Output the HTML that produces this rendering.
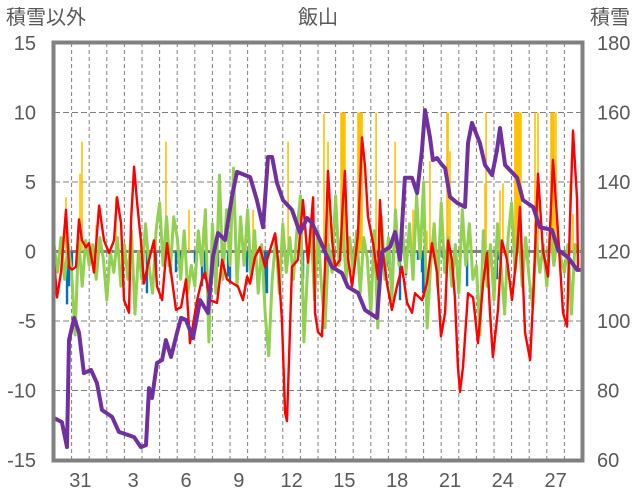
<!DOCTYPE html>
<html><head><meta charset="utf-8">
<style>
html,body{margin:0;padding:0;background:#fff;}
svg{display:block;}
text{font-family:"Liberation Sans","Noto Sans CJK JP",sans-serif;fill:#595959;}
</style></head>
<body>
<svg id="chart" width="636" height="501" viewBox="0 0 636 501" xmlns="http://www.w3.org/2000/svg">
<text x="46" y="24" font-size="20" text-anchor="middle">積雪以外</text>
<text x="318" y="24" font-size="20" text-anchor="middle">飯山</text>
<text x="610" y="24" font-size="20" text-anchor="middle">積雪</text>
<g id="grid"></g>
<g id="bars"></g>
<g id="lines"></g>
<g id="axes"></g>
</svg>
<script>
const leftTicks=[15,10,5,0,-5,-10,-15];
const rightTicks=[180,160,140,120,100,80,60];
const xTickLabels=["31","3","6","9","12","15","18","21","24","27"];
const xTickDays=[1,4,7,10,13,16,19,22,25,28];
// snow depth (right axis)
const snowT=[0,0.45,0.74,0.85,1.14,1.42,1.7,2.1,2.44,2.73,3.3,3.69,4.55,4.94,5.23,5.4,5.57,5.85,6.14,6.36,6.65,6.99,7.22,7.5,7.9,8.3,8.75,9.03,9.32,9.72,10.11,10.4,11.14,11.53,11.88,12.16,12.39,12.67,13.01,13.52,13.98,14.38,14.66,15.11,15.4,15.8,16.36,16.7,17.27,17.67,18.35,18.64,19.09,19.38,19.66,19.94,20.34,20.63,20.91,21.08,21.36,21.53,21.76,22.05,22.22,22.5,22.9,23.35,23.52,23.75,24.2,24.49,24.89,25.17,25.34,25.63,26.31,26.65,27.22,27.61,28.3,28.64,29.2,29.72,29.89];
const snowV=[72.1,70.9,63.7,94.5,100.9,96.6,85,85.9,82.2,74.4,72.4,68.1,66.6,63.7,64.3,80.7,77.8,87.9,88.8,94.5,89.6,96.6,100.9,100.3,95.1,106,102.3,118.4,125.3,123.3,135.7,142.9,141.4,134.8,127,147.2,147.2,139.7,134.8,132,125.3,129.6,128.2,123.3,119.9,115.5,113.8,109.8,108.1,103.2,100.9,119.9,121.3,125.6,117.6,141.2,141.2,136.8,149.2,160.7,153,146.3,146.9,144.9,144,135.7,134,132.8,151.2,157,151.2,144.9,142,149.2,155.5,144.9,141.2,134.8,132.8,127,126.2,120.4,118.4,114.7,114.7];
// red series (left axis)
const redT=[0,.17,.4,.68,.85,1.02,1.25,1.42,1.59,1.82,1.99,2.27,2.56,2.84,3.13,3.41,3.58,3.81,3.98,4.26,4.38,4.55,4.72,4.94,5.11,5.4,5.68,5.85,6.14,6.42,6.65,6.93,7.22,7.5,7.73,8.13,8.41,8.58,8.86,9.26,9.55,9.83,10.17,10.45,10.74,10.97,11.14,11.42,11.7,11.99,12.27,12.56,12.73,12.95,13.13,13.24,13.52,13.86,14.15,14.43,14.72,14.83,15,15.23,15.4,15.57,15.8,15.97,16.25,16.42,16.53,16.7,16.93,17.1,17.27,17.5,17.67,17.84,18.13,18.41,18.52,18.69,18.92,19.2,19.49,19.77,20.06,20.34,20.51,20.91,21.19,21.48,21.76,21.99,22.22,22.39,22.61,22.78,22.95,23.07,23.24,23.52,23.81,24.09,24.38,24.6,24.77,24.94,25.23,25.45,25.74,26.02,26.31,26.48,26.76,27.05,27.22,27.5,27.78,28.07,28.35,28.64,28.92,29.15,29.32,29.49,29.72,29.77];
const redV=[-0.6,-3.3,-1.5,3,-1.1,-1.3,-1.1,2.3,0.8,0.3,0.6,-1.5,3.3,0.8,-0.1,0.8,3.9,2,-3.5,-4.4,2.3,6.1,3.5,0.8,-2.3,-0.6,0.8,-2.5,-3.5,0.6,-1.5,-4.2,-4,-2,-6.6,-3.5,-2,-1.5,-3.5,-3.7,-0.6,-2,-2.3,-2.5,-3.5,-1.8,-2.3,-0.4,0.3,-1.1,0.1,1.3,-0.6,-4.9,-11.6,-12.2,-1.1,-0.6,3.7,-0.8,3.9,-4.4,-5.8,-6.1,-1.1,5.8,0.8,-1.1,-0.6,3.7,5.8,-0.4,-2.5,-0.8,1.3,8.2,6.1,2.5,0.6,-2,3.7,-0.1,-2.3,-4.2,-2.5,-1.1,-3.7,-4.4,-3,-3.5,-2.3,0.6,-1.5,-6.1,-4.4,0.8,-0.6,-3.3,-8.3,-10.1,-8.3,-3,-3.3,-6.6,-2.3,-0.1,-4.4,-7.6,-4.2,0.8,-0.6,-3.5,0.1,3.2,-5.8,-7.8,-3.5,5.6,0.1,-1.8,6.6,1.3,-4.4,-5.4,2.3,8.7,3.7,-1.1];
// green series (left axis), 5 samples per day
const greenStep=0.2;
const greenV=[0.5,-1.5,1,-2,0.5, -1.5,-6,1,-2.5,0.8, -1,0.5,-2,1,-0.5, -3.5,0,-1.5,1,-2.5, 0.5,-2,1.5,-4.5,0, -2,2,-1,-3,1.5, 3.5,-1,2.5,-1.5,2.5, 1,-2,1.5,-3,-1, -2.5,1.5,-1,3,-6.5, 2,-3,5.5,-2,3, -1,6,-2.5,2.5,-1, 3,-2,1.5,-3,0.5, -4.5,-7.5,-2,1,-3, 2,-1.5,1,-2,1.5, 4,-6.5,-1.5,2,-3.5, 1.5,-2.5,-5.5,0.5,-1.5, 4,-1,2,-2,1, -1.5,1.5,-3,1,-0.5, -4.5,1.5,-5.5,2.5,-2, 1,-3.5,3,-1,1.5, -1.5,2,-2,4,-0.5, 5,-5.5,-1,2,-2.5, 3.5,-1.5,1,-2.5,0.5, -3,3,-1,2,-2, -1,-6,1.5,-2.5,0.5, -3.5,2,-1,-4.5,1, 3.5,-1.5,2,-2.5,1, -2,-4,1,-1.5,0.5, -2.5,1.5,-1,1,-0.5, -1.5,0.5,-4.5,0.5,0];
// yellow bars (left axis)
const yellowT=[0.68,1.48,1.59,2.39,3.52,6.36,7.67,8.47,11.31,13.3,15.34,15.57,16.31,16.36,16.42,16.48,16.53,17.27,17.33,17.39,17.44,17.5,18.3,19.38,20.4,20.51,21.19,21.36,22.33,22.39,22.5,24.49,24.55,25.34,25.51,26.19,26.25,26.31,26.36,26.42,26.48,26.53,27.33,27.5,28.24,28.3,28.35,28.41,28.52,29.32,29.49];
const yellowV=[3.9,5.6,7.9,1.9,3.9,7.9,3,1.8,3,7.9,9.9,7.9,10,10,10,10,10,10,10,10,10,10,10,7.9,3,3,1.5,6.5,10,10,7.2,4.9,10,4.4,4.9,10,10,10,10,10,10,10,10,10,10,10,10,10,10,4.9,2.7];
// blue bars (left axis)
const blueT=[0,0.74,0.85,1.02,5.28,5.8,6.53,6.93,7.16,8.01,8.41,8.58,9.32,9.89,10,10.97,11.99,12.1,14.15,15.68,18.41,18.92,19.26,19.66,20,20.68,20.91,20.97,21.08,21.53,22.1,23.47,25.17,25.23];
const blueV=[-0.3,-3.8,-2.5,-1.1,-3,-1.5,-1.1,-1.5,-1.1,-0.8,-2.5,-2,-1.1,-1.8,-2.3,-1.5,-3,-3,-2,-0.5,-0.4,-1.1,-1,-3.5,-1.7,-0.6,-1.5,-3,-3.3,-0.4,-0.5,-2.5,-2,-0.6];

const L=54,R=582,T=43,B=460,DAYS=30;
const xs=t=>L+t*(R-L)/DAYS;
const yl=v=>T+(15-v)*(B-T)/30;
const yr=v=>T+(180-v)*(B-T)/120;
const NS="http://www.w3.org/2000/svg";
function mk(tag,attrs,parent){const e=document.createElementNS(NS,tag);for(const k in attrs)e.setAttribute(k,attrs[k]);parent.appendChild(e);return e;}
const grid=document.getElementById('grid'),bars=document.getElementById('bars'),lines=document.getElementById('lines'),axes=document.getElementById('axes');
mk('rect',{x:L,y:T,width:R-L,height:B-T,fill:'#fff'},grid);
for(let d=1;d<DAYS;d++){
  const g=mk('line',{x1:xs(d),x2:xs(d),y1:T,y2:B,stroke:'#808080','stroke-width':1,'stroke-dasharray':'4,3'},grid);
  
  
}
[10,5,-5,-10].forEach(v=>{
  const g=mk('line',{x1:L,x2:R,y1:yl(v),y2:yl(v),stroke:'#808080','stroke-width':1,'stroke-dasharray':'6,3'},grid);
  
  
});
const zl=mk('line',{x1:L,x2:R,y1:yl(0),y2:yl(0),stroke:'#808080','stroke-width':3},grid);


blueT.forEach((t,i)=>{
  const y0=yl(0),y1=yl(blueV[i]);
  const b=mk('rect',{x:xs(t)-1.2,y:y0,width:2.4,height:y1-y0,fill:'#0070c0'},bars);
  
  
});
yellowT.forEach((t,i)=>{
  const y0=yl(0),y1=yl(yellowV[i]);
  const b=mk('rect',{x:xs(t)-0.8,y:y1,width:1.6,height:y0-y1,fill:'#ffc000'},bars);
  
  
});
function poly(ts,vs,yf,color,w,name){
  const pts=ts.map((t,i)=>xs(t).toFixed(1)+','+yf(vs[i]).toFixed(1)).join(' ');
  const p=mk('polyline',{points:pts,fill:'none',stroke:color,'stroke-width':w,'stroke-linejoin':'round','stroke-linecap':'round'},lines);
  
  
}
const greenT=greenV.map((v,i)=>i*greenStep);
poly(greenT,greenV,yl,'#92d050',3,'green-series-line');
poly(redT,redV,yl,'#ff0000',2.4,'red-series-line');
poly(snowT,snowV,yr,'#7030a0',4,'snow-depth-line');
const fr=mk('rect',{x:L-0.5,y:T-0.5,width:R-L+1,height:B-T+1,fill:'none',stroke:'#808080','stroke-width':4},axes);


leftTicks.forEach(v=>{
  const t=mk('text',{x:36,y:yl(v)+7,'font-size':20,'text-anchor':'end'},axes);
  t.textContent=v;
  
  
});
rightTicks.forEach(v=>{
  const t=mk('text',{x:597,y:yr(v)+7,'font-size':20,'text-anchor':'start'},axes);
  t.textContent=v;
  
  
});
xTickLabels.forEach((s,i)=>{
  const t=mk('text',{x:xs(xTickDays[i]+0.5),y:487,'font-size':20,'text-anchor':'middle'},axes);
  t.textContent=s;
  
  
});
</script>
</body></html>
